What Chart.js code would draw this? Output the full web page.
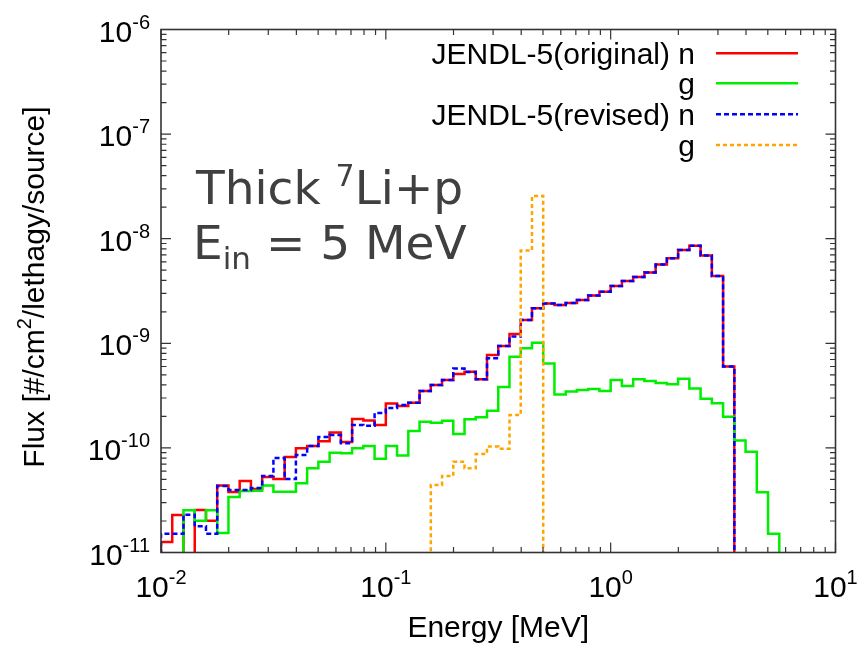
<!DOCTYPE html>
<html>
<head>
<meta charset="utf-8">
<script src="https://cdn.jsdelivr.net/npm/chart.js@4.4.1/dist/chart.umd.min.js"></script>
<style>
  html, body { margin: 0; padding: 0; background: #fff; }
  canvas { display: block; }
</style>
</head>
<body>
<canvas id="fluxChart" width="865" height="645"></canvas>
<script>
// energy bins: 20 per decade starting at 0.01 MeV
const binsPerDecade = 20;
const firstEdge = 0.01;

// flux per bin [#/cm2/lethargy/source], null = below the plotted range
const originalN = [
  1.26e-11, 2.28e-11, null, 2.55e-11, 2.01e-11, 4.37e-11, 3.79e-11, 4.83e-11, 4.05e-11, 5.27e-11,
  5.04e-11, 8.18e-11, 9.9e-11, 1.04e-10, 1.16e-10, 1.40e-10, 1.14e-10, 1.89e-10, 1.83e-10, 1.66e-10,
  2.66e-10, 2.52e-10, 2.70e-10, 3.50e-10, 3.99e-10, 4.46e-10, 5.09e-10, 5.35e-10, 4.53e-10, 7.73e-10,
  9.42e-10, 1.23e-9, 1.67e-9, 2.16e-9, 2.40e-9, 2.32e-9, 2.43e-9, 2.59e-9, 2.86e-9, 3.11e-9,
  3.53e-9, 3.94e-9, 4.30e-9, 4.75e-9, 5.66e-9, 6.49e-9, 7.80e-9, 8.57e-9, 6.91e-9, 4.40e-9,
  6.00e-10
];
const originalG = [
  null, null, 2.53e-11, 2.01e-11, 2.53e-11, 1.54e-11, 3.39e-11, 3.87e-11, 3.90e-11, 4.37e-11,
  3.81e-11, 3.81e-11, 4.59e-11, 6.38e-11, 7.38e-11, 9.00e-11, 8.88e-11, 9.9e-11, 1.04e-10, 7.87e-11,
  1.04e-10, 8.46e-11, 1.45e-10, 1.78e-10, 1.74e-10, 1.82e-10, 1.36e-10, 1.88e-10, 1.96e-10, 2.27e-10,
  3.82e-10, 7.45e-10, 8.96e-10, 1.01e-9, 6.41e-10, 3.24e-10, 3.46e-10, 3.58e-10, 3.66e-10, 3.50e-10,
  4.46e-10, 3.91e-10, 4.54e-10, 4.36e-10, 4.17e-10, 4.06e-10, 4.59e-10, 3.70e-10, 2.95e-10, 2.67e-10,
  1.99e-10, 1.18e-10, 9.20e-11, 3.77e-11, 1.51e-11
];
const revisedN = [
  1.51e-11, 1.51e-11, 2.30e-11, 1.78e-11, 1.51e-11, 4.32e-11, 3.96e-11, 3.96e-11, 4.14e-11, 5.39e-11,
  8.01e-11, 5.04e-11, 8.55e-11, 1.04e-10, 1.27e-10, 1.33e-10, 1.11e-10, 1.66e-10, 1.63e-10, 2.16e-10,
  2.41e-10, 2.57e-10, 2.70e-10, 3.50e-10, 3.99e-10, 4.46e-10, 5.74e-10, 5.32e-10, 4.53e-10, 7.19e-10,
  9.42e-10, 1.16e-9, 1.67e-9, 2.16e-9, 2.40e-9, 2.32e-9, 2.43e-9, 2.59e-9, 2.86e-9, 3.11e-9,
  3.53e-9, 3.94e-9, 4.30e-9, 4.75e-9, 5.66e-9, 6.49e-9, 7.80e-9, 8.57e-9, 6.91e-9, 4.40e-9,
  6.00e-10
];
// revised gamma starts at bin 24
const revisedGStartBin = 24;
const revisedG = [4.42e-11, 5.39e-11, 7.38e-11, 6.38e-11, 8.74e-11, 1.03e-10, 9.83e-11, 2.06e-10, 7.71e-9, 2.56e-8];

const xTickExps = [-2, -1, 0, 1];
const yTickExps = [-11, -10, -9, -8, -7, -6];
const legendLabels = ["JENDL-5(original) n", "g", "JENDL-5(revised) n", "g"];

const FLOOR = 1e-14; // "zero" drawn below the axis, clipped away
const FONT = '"Liberation Sans", Arial, sans-serif';
const NOTE_FONT = '"DejaVu Sans", Verdana, sans-serif';

function edge(i) {
  return firstEdge * Math.pow(10, i / binsPerDecade);
}

function stepPoints(values, startBin) {
  const pts = [{x: edge(startBin), y: FLOOR}];
  values.forEach((v, k) => {
    const y = v === null ? FLOOR : v;
    pts.push({x: edge(startBin + k), y: y}, {x: edge(startBin + k + 1), y: y});
  });
  pts.push({x: edge(startBin + values.length), y: FLOOR});
  return pts;
}

const series = [
  {data: stepPoints(originalN, 0), color: "#ff0000", dash: []},
  {data: stepPoints(originalG, 0), color: "#00ee00", dash: []},
  {data: stepPoints(revisedN, 0), color: "#0000ff", dash: [5, 3]},
  {data: stepPoints(revisedG, revisedGStartBin), color: "#ffa500", dash: [4, 3]}
];

// draw a run of text pieces [text, size, dy] on one baseline
function drawRuns(ctx, parts, family, x, y, align) {
  let w = 0;
  parts.forEach(p => { ctx.font = p[1] + "px " + family; w += ctx.measureText(p[0]).width; });
  let cx = align === "right" ? x - w : align === "center" ? x - w / 2 : x;
  parts.forEach(p => {
    ctx.font = p[1] + "px " + family;
    ctx.fillText(p[0], cx, y + p[2]);
    cx += ctx.measureText(p[0]).width;
  });
}

const framePlugin = {
  id: "frame",
  afterDatasetsDraw(chart) {
    const ctx = chart.ctx;
    const a = chart.chartArea;
    const xs = chart.scales.x, ys = chart.scales.y;
    ctx.save();
    ctx.textAlign = "left";
    ctx.textBaseline = "alphabetic";

    // ticks, mirrored on all sides
    ctx.strokeStyle = "#333";
    ctx.lineWidth = 1.2;
    ctx.beginPath();
    xTickExps.forEach(e => {
      for (let m = 1; m <= 9; m++) {
        const v = m * Math.pow(10, e);
        if (v > 10.0001) break;
        const px = xs.getPixelForValue(v);
        const len = m === 1 ? 10 : 5.5;
        ctx.moveTo(px, a.bottom); ctx.lineTo(px, a.bottom - len);
        ctx.moveTo(px, a.top); ctx.lineTo(px, a.top + len);
      }
    });
    yTickExps.forEach(e => {
      for (let m = 1; m <= 9; m++) {
        const v = m * Math.pow(10, e);
        if (v > 1.0001e-6) break;
        const py = ys.getPixelForValue(v);
        const len = m === 1 ? 10 : 5.5;
        ctx.moveTo(a.left, py); ctx.lineTo(a.left + len, py);
        ctx.moveTo(a.right, py); ctx.lineTo(a.right - len, py);
      }
    });
    ctx.stroke();
    ctx.lineWidth = 1.6;
    ctx.strokeRect(a.left, a.top, a.right - a.left, a.bottom - a.top);

    // tick labels
    ctx.fillStyle = "#000";
    xTickExps.forEach(e => {
      const px = xs.getPixelForValue(Math.pow(10, e));
      drawRuns(ctx, [["10", 30, 0], [String(e), 20, -13]], FONT, px, a.bottom + 44, "center");
    });
    yTickExps.forEach(e => {
      const py = ys.getPixelForValue(Math.pow(10, e));
      drawRuns(ctx, [["10", 30, 0], [String(e), 20, -13]], FONT, a.left - 11, py + 12, "right");
    });

    // axis titles
    drawRuns(ctx, [["Energy [MeV]", 30, 0]], FONT, (a.left + a.right) / 2, 637, "center");
    ctx.save();
    ctx.translate(44, 287);
    ctx.rotate(-Math.PI / 2);
    drawRuns(ctx, [["Flux [#/cm", 30, 0], ["2", 20, -13], ["/lethagy/source]", 30, 0]], FONT, 0, 0, "center");
    ctx.restore();

    // legend
    legendLabels.forEach((t, i) => {
      const line = [53.3, 83.3, 114.3, 145][i];
      drawRuns(ctx, [[t, 30, 0]], FONT, 695, line + 10.5, "right");
      const s = series[i];
      ctx.strokeStyle = s.color;
      ctx.lineWidth = 2.5;
      ctx.setLineDash(s.dash);
      ctx.beginPath();
      ctx.moveTo(716, line);
      ctx.lineTo(798, line);
      ctx.stroke();
    });
    ctx.setLineDash([]);

    // annotation
    ctx.fillStyle = "#404040";
    drawRuns(ctx, [["Thick ", 47, 0], ["7", 30, -18], ["Li+p", 47, 0]], NOTE_FONT, 196, 204, "left");
    drawRuns(ctx, [["E", 47, 0], ["in", 31, 10], [" = 5 MeV", 47, 0]], NOTE_FONT, 193, 259, "left");
    ctx.restore();
  }
};

const ctx = document.getElementById("fluxChart").getContext("2d");
const chart = new Chart(ctx, {
  type: "line",
  data: {
    datasets: series.map((s, i) => ({
      label: legendLabels[i],
      data: s.data,
      borderColor: s.color,
      borderDash: s.dash,
      borderWidth: 2.5,
      pointRadius: 0,
      tension: 0,
      fill: false,
      order: series.length - i
    }))
  },
  options: {
    responsive: false,
    animation: false,
    devicePixelRatio: 1,
    layout: { padding: { left: 161, right: 29.5, top: 29.5, bottom: 92.5 } },
    scales: {
      x: { type: "logarithmic", min: 0.01, max: 10, display: false },
      y: { type: "logarithmic", min: 1e-11, max: 1e-6, display: false }
    },
    plugins: {
      legend: { display: false },
      tooltip: { enabled: false }
    }
  },
  plugins: [framePlugin]
});
</script>
</body>
</html>
